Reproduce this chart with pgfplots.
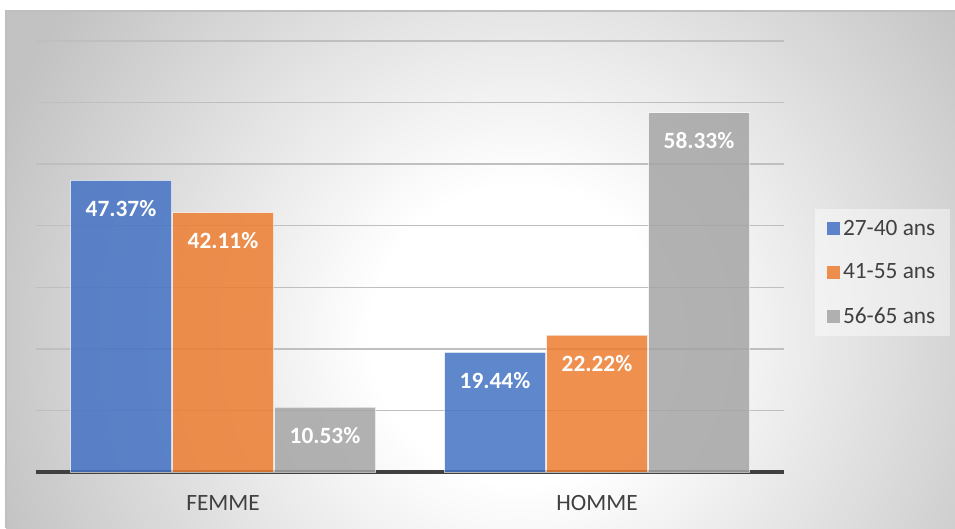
\documentclass[border=0pt]{standalone}
\usepackage{pgfplots}
\pgfplotsset{compat=1.18}
\usepackage{fontspec}
\setmainfont{Carlito}
\definecolor{cBlue}{HTML}{4472C4}
\definecolor{cOrange}{HTML}{ED7D31}
\definecolor{cGray}{HTML}{A5A5A5}
\definecolor{bggray}{HTML}{C2C2C2}
\definecolor{bgline}{HTML}{BFBFBF}
\definecolor{gridc}{HTML}{BFBFBF}
\definecolor{axisc}{HTML}{404040}
\definecolor{labc}{HTML}{404040}
\pgfdeclareradialshading{bgshade}{\pgfpointorigin}{color(0bp)=(white); color(4bp)=(white); color(15bp)=(bggray); color(25bp)=(bggray); color(50bp)=(bggray)}
\begin{document}
\begin{tikzpicture}[font=\fontsize{17.5}{21}\selectfont]
\useasboundingbox (0,0) rectangle (716.25pt,396pt);
\fill[white] (0,0) rectangle (716.25pt,396pt);
\begin{scope}
\clip (4.5pt,0) rectangle (716.25pt,387.75pt);
\fill[bggray] (4.5pt,0) rectangle (716.25pt,387.75pt);
\shade[shading=bgshade] (390pt,145pt) circle (700pt);
\end{scope}
\draw[bgline, line width=1.5pt] (4.5pt,0) -- (4.5pt,387.75pt) -- (716.25pt,387.75pt);
\begin{axis}[
  at={(27pt,42pt)}, anchor=south west,
  scale only axis, width=561pt, height=323.25pt,
  xmin=-0.5, xmax=1.5, ymin=0, ymax=70,
  xtick={0,1}, xticklabels={FEMME,HOMME},
  ytick={0,10,...,70}, yticklabels={},
  ymajorgrids, grid style={gridc, line width=1pt},
  axis x line*=bottom, axis y line*=left,
  y axis line style={draw=none},
  x axis line style={-, line width=3pt, color=axisc},
  major tick length=0pt,
  xticklabel style={text=labc, anchor=base, yshift=-29pt},
  ybar=0.75pt, bar width=75.75pt,
  /pgf/number format/assume math mode=true,
  nodes near coords={\pgfmathprintnumber[fixed,fixed zerofill,precision=2]{\pgfplotspointmeta}\%},
  every node near coord/.append style={text=white, text opacity=1, font=\fontsize{17.5}{21}\selectfont\bfseries, anchor=center, yshift=-21pt},
  legend style={at={(1.1317,0.4629)}, anchor=center, draw=none, fill=white, fill opacity=0.45, text opacity=1, text=labc, inner xsep=9pt, inner ysep=6pt, row sep=16pt, font=\fontsize{17.5}{21}\selectfont},
  legend cell align=left,
  legend image code/.code={\fill[#1, draw=none] (0pt,-5pt) rectangle (10pt,5pt);},
]
\addplot[fill=cBlue, fill opacity=0.85, draw=white, draw opacity=0.6, line width=0.75pt] coordinates {(0,47.37) (1,19.44)};
\addplot[fill=cOrange, fill opacity=0.85, draw=white, draw opacity=0.6, line width=0.75pt] coordinates {(0,42.11) (1,22.22)};
\addplot[fill=cGray, fill opacity=0.85, draw=white, draw opacity=0.6, line width=0.75pt] coordinates {(0,10.53) (1,58.33)};
\legend{27-40 ans, 41-55 ans, 56-65 ans}
\end{axis}
\end{tikzpicture}
\end{document}
